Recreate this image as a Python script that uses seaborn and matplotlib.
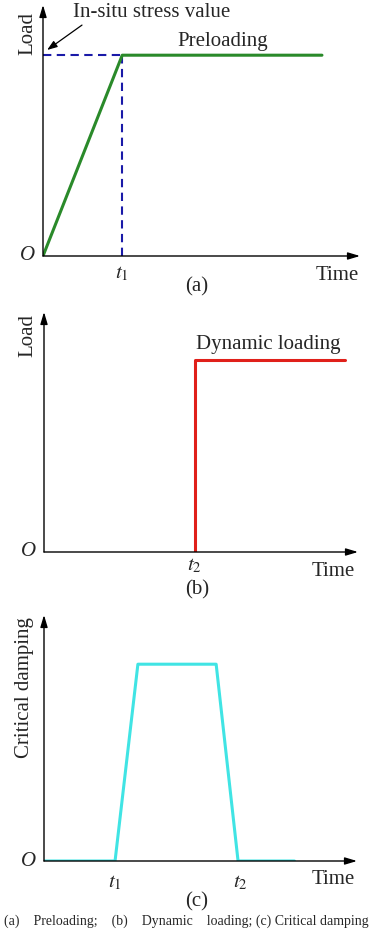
import matplotlib
matplotlib.use("Agg")
import matplotlib.pyplot as plt
import seaborn as sns
import pandas as pd

# (a) preloading: time vs load
pre_time = [0.0, 2.5, 8.8]
pre_load = [0.0, 1.0, 1.0]
pre_t1 = 2.5
pre_level = 1.0

# (b) dynamic loading: step at t2
dyn_time = [4.8, 4.8, 9.6]
dyn_load = [0.0, 1.0, 1.0]
dyn_t2 = 4.8

# (c) critical damping: trapezoid
dmp_time = [0.0, 2.27, 3.0, 5.5, 6.2, 8.0]
dmp_value = [0.0, 0.0, 1.0, 1.0, 0.0, 0.0]
dmp_ticks = [2.27, 6.26]
dmp_tick_labels = ["$t_1$", "$t_2$"]

sns.set_theme(style="white")
plt.rcParams["font.family"] = ["Liberation Serif", "DejaVu Serif"]
plt.rcParams["mathtext.fontset"] = "stix"

W, H = 372, 932
fig = plt.figure(figsize=(W / 100, H / 100), dpi=100)
fig.patch.set_facecolor("white")

FS = 15


def make_axes(left, bottom, right, top):
    # pixel box -> figure fraction
    ax = fig.add_axes([left / W, (H - bottom) / H, (right - left) / W, (bottom - top) / H])
    ax.set_facecolor("none")
    for s in ax.spines.values():
        s.set_visible(False)
    ax.set_xlim(0, 10)
    ax.set_ylim(0, 1.25)
    arrow = dict(arrowstyle="-|>,head_length=0.6,head_width=0.18", color="black", lw=1.0,
                 shrinkA=0, shrinkB=0)
    ax.annotate("", xy=(1, 0), xytext=(0, 0), xycoords="axes fraction", arrowprops=arrow,
                annotation_clip=False)
    ax.annotate("", xy=(0, 1), xytext=(0, 0), xycoords="axes fraction", arrowprops=arrow,
                annotation_clip=False)
    ax.set_yticks([])
    ax.tick_params(axis="x", length=0, pad=6, labelsize=FS)
    ax.set_xlabel("")
    ax.set_ylabel("")
    return ax


def finish(ax, ylabel, ylab_pos, time_pos, tag, tag_pos, ylab_size=FS):
    ax.text(ylab_pos[0], ylab_pos[1], ylabel, transform=ax.transAxes, rotation=90,
            ha="center", va="center", fontsize=ylab_size)
    ax.text(-0.05, 0, "O", transform=ax.transAxes, ha="center", va="center",
            fontsize=FS, style="italic")
    ax.text(time_pos[0], time_pos[1], "Time", transform=ax.transAxes, ha="center",
            va="center", fontsize=FS)
    ax.text(tag_pos[0], tag_pos[1], tag, transform=ax.transAxes, ha="center",
            va="center", fontsize=FS)


# ---- (a)
ax1 = make_axes(43, 256, 360, 5)
df_a = pd.DataFrame({"time": pre_time, "load": pre_load})
ax1.plot([0, pre_t1], [pre_level, pre_level], color="#1a1aa8", lw=1.5, ls=(0, (4, 2.6)))
ax1.plot([pre_t1, pre_t1], [0, pre_level], color="#1a1aa8", lw=1.5, ls=(0, (4, 2.6)))
sns.lineplot(data=df_a, x="time", y="load", ax=ax1, color="#2a8a2a", lw=2.2,
             estimator=None, sort=False)
ax1.set_xticks([pre_t1])
ax1.set_xticklabels(["$t_1$"])
ax1.set_xlabel("")
ax1.set_ylabel("")
ax1.text(0.95, 1.215, "In-situ stress value", ha="left", va="center", fontsize=FS)
ax1.annotate("", xy=(0.13, 1.026), xytext=(1.23, 1.15),
             arrowprops=dict(arrowstyle="-|>,head_length=0.5,head_width=0.18",
                             color="black", lw=0.9, shrinkA=0, shrinkB=0),
             annotation_clip=False)
ax1.text(5.68, 1.07, "Preloading", ha="center", va="center", fontsize=FS)
finish(ax1, "Load", (-0.047, 0.888), (0.927, -0.076), "(a)", (0.486, -0.124))

# ---- (b)
ax2 = make_axes(44, 552, 358, 312)
df_b = pd.DataFrame({"time": dyn_time, "load": dyn_load})
sns.lineplot(data=df_b, x="time", y="load", ax=ax2, color="#e0201a", lw=2.2,
             estimator=None, sort=False)
ax2.set_xticks([dyn_t2])
ax2.set_xticklabels(["$t_2$"])
ax2.tick_params(axis="x", pad=3)
ax2.set_xlabel("")
ax2.set_ylabel("")
ax2.text(7.13, 1.083, "Dynamic loading", ha="center", va="center", fontsize=FS)
finish(ax2, "Load", (-0.051, 0.904), (0.92, -0.083), "(b)", (0.487, -0.158))

# ---- (c)
ax3 = make_axes(44, 861, 357, 615)
df_c = pd.DataFrame({"time": dmp_time, "value": dmp_value})
sns.lineplot(data=df_c, x="time", y="value", ax=ax3, color="#40e4e4", lw=2.2,
             estimator=None, sort=False)
ax3.set_xticks(dmp_ticks)
ax3.set_xticklabels(dmp_tick_labels)
ax3.tick_params(axis="x", pad=9)
ax3.set_xlabel("")
ax3.set_ylabel("")
finish(ax3, "Critical damping", (-0.061, 0.707), (0.923, -0.077), "(c)", (0.489, -0.167))

fig.text(0.5, (H - 921) / H,
         "(a)    Preloading;    (b)    Dynamic    loading; (c) Critical damping",
         ha="center", va="center", fontsize=10)

fig.savefig("out.png", dpi=100, facecolor="white")
